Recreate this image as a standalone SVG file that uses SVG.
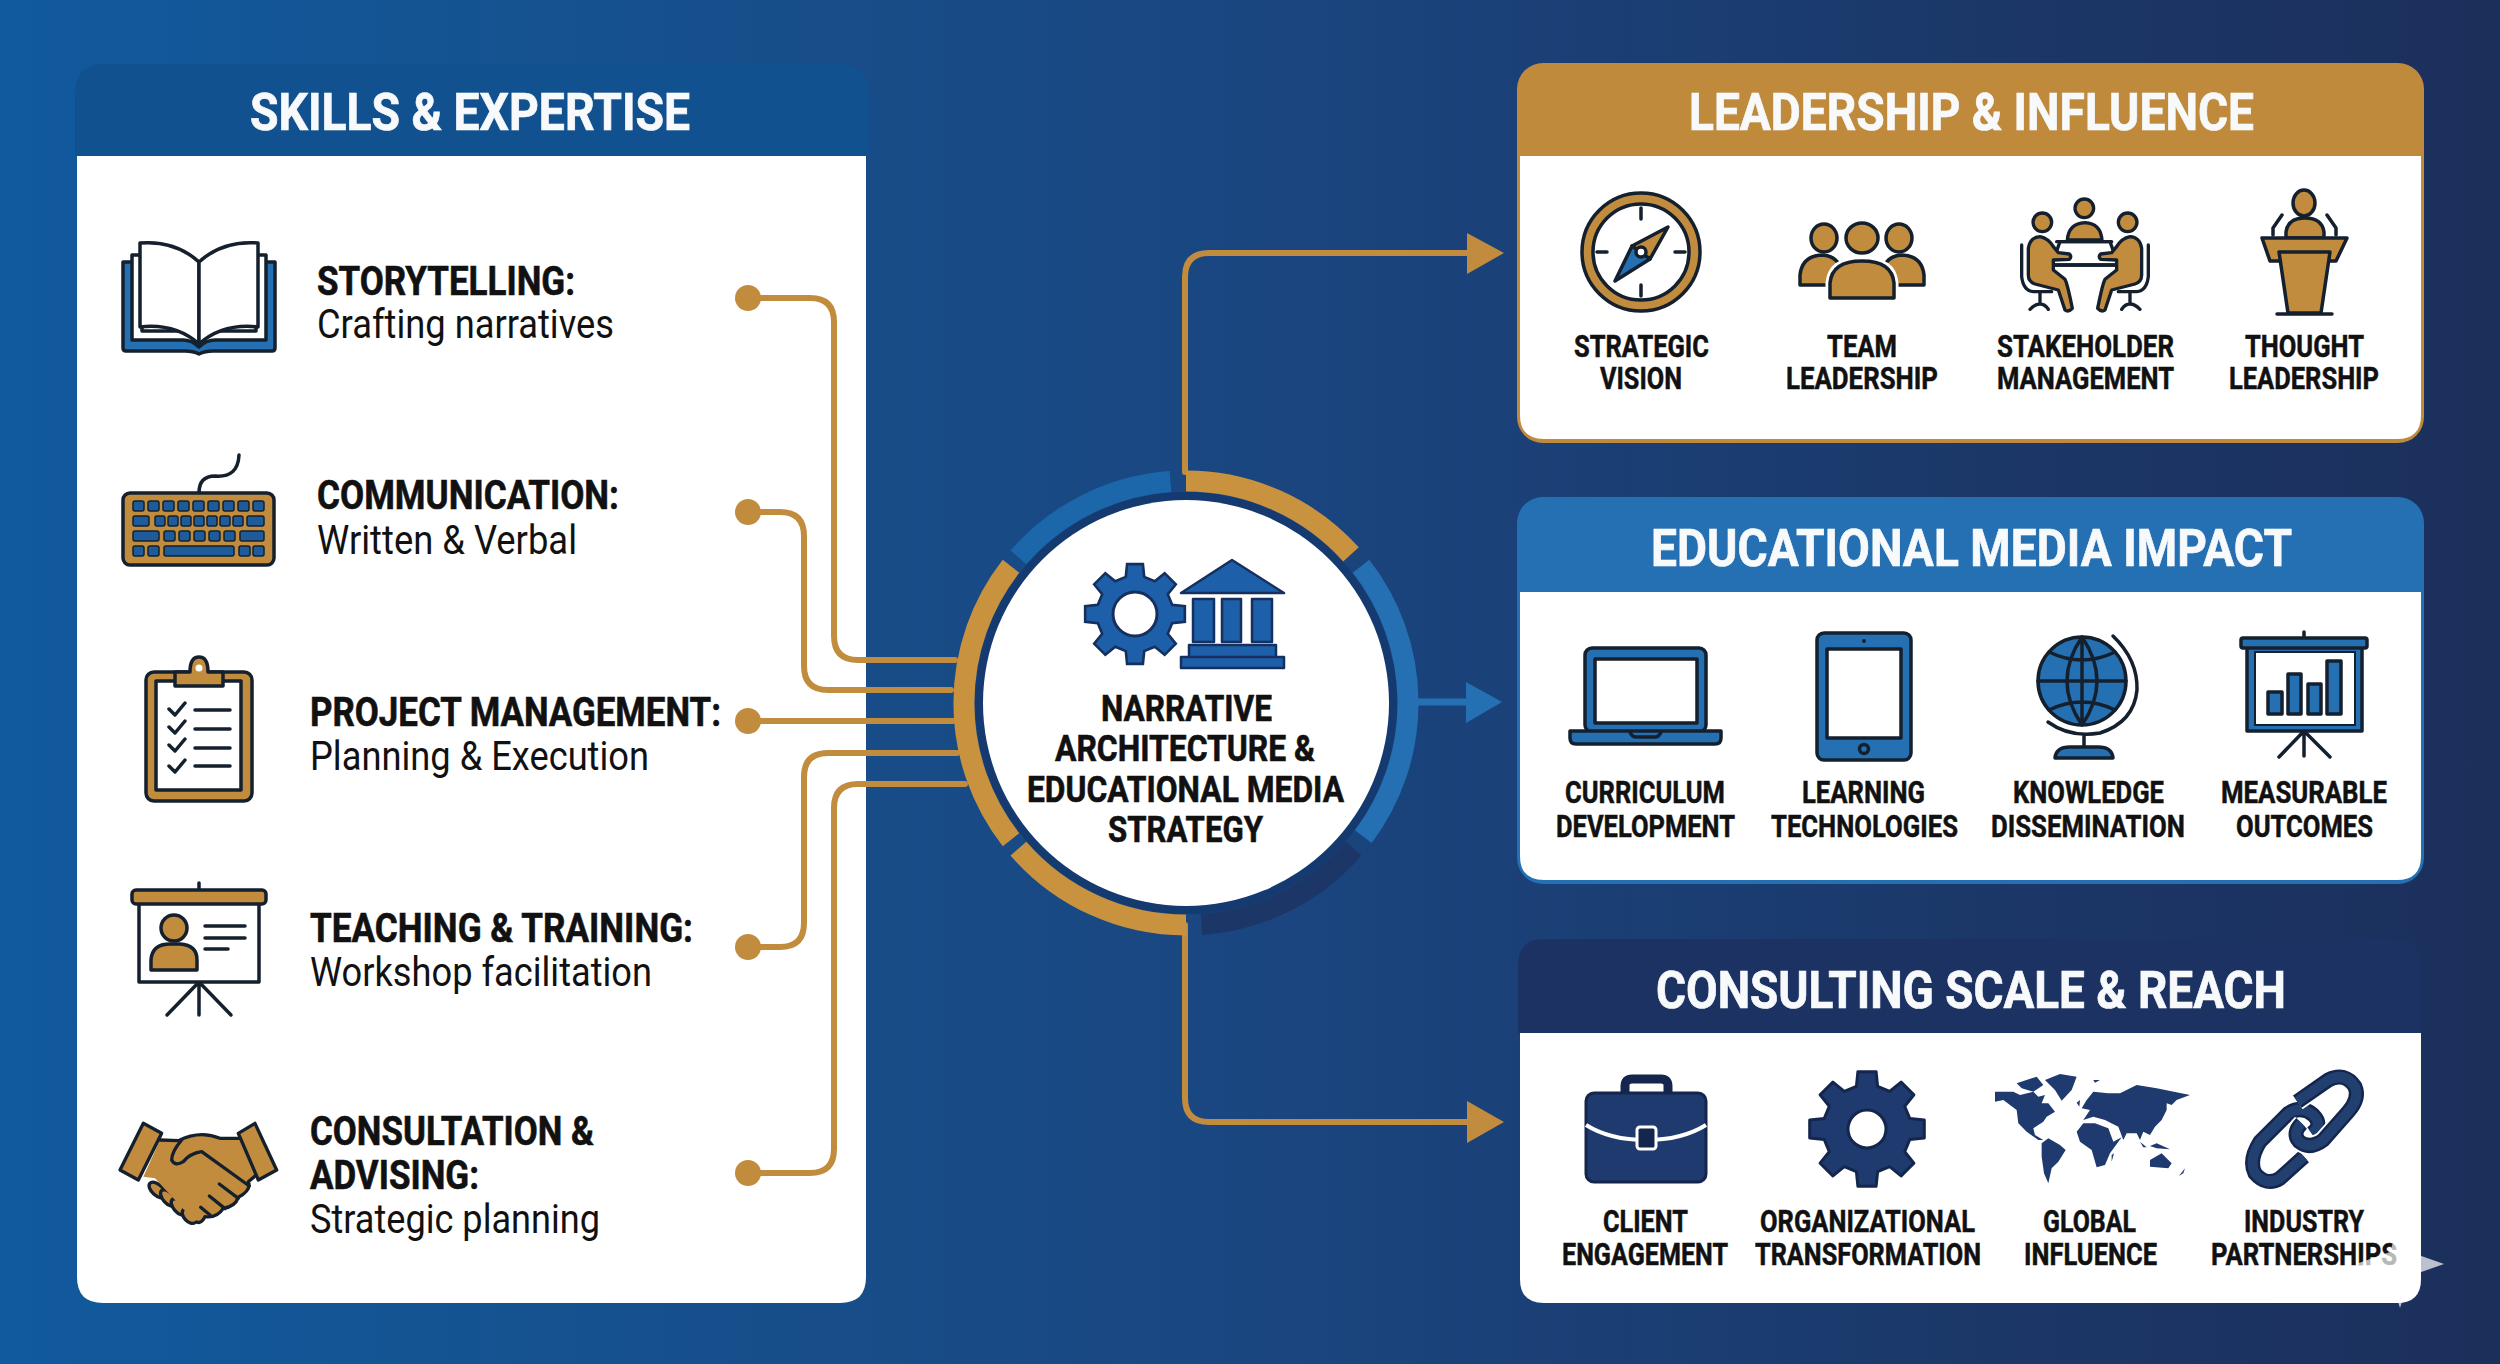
<svg xmlns="http://www.w3.org/2000/svg" width="2500" height="1364" viewBox="0 0 2500 1364">
<style>
text{font-family:Roboto,"Liberation Sans",sans-serif;fill:#111}
.title{font-size:52px;font-weight:700;fill:#f7f9fb;stroke:#f7f9fb;stroke-width:.7}
.head{font-size:40px;font-weight:700;stroke:#111;stroke-width:.6}
.sub{font-size:40px;font-weight:400}
.core{font-size:37px;font-weight:700;stroke:#111;stroke-width:.6}
.lab{font-size:31px;font-weight:700;stroke:#111;stroke-width:.5}
.conn{fill:none;stroke:#c28c3e;stroke-width:6;stroke-linecap:round;stroke-linejoin:round}
.dot{fill:#c28c3e}
.ahg{fill:#c28c3e}
.arc{fill:none;stroke-width:21}
.ko{stroke:#15202e;stroke-width:3.5;stroke-linejoin:round;stroke-linecap:round}
.k10{stroke:#15202e;stroke-width:10;stroke-linejoin:round;stroke-linecap:round}
.g{fill:#c28c3e}
.b{fill:#2470b3}
.n{fill:#1f3a6e}
.w{fill:#fff}
.nf{fill:none}
.key{fill:#1d5b9b;stroke:#15202e;stroke-width:1.5}
</style>
<defs>
<linearGradient id="bg" x1="0" y1="0" x2="1" y2="0">
<stop offset="0" stop-color="#115a9e"/><stop offset=".22" stop-color="#15528f"/><stop offset=".5" stop-color="#1a4680"/><stop offset=".8" stop-color="#1b3768"/><stop offset="1" stop-color="#1c2f5b"/>
</linearGradient>
<path id="gear" d="M-10.6-42.7L-9.1-57.3L9.1-57.3L10.6-42.7L22.7-37.7L34.1-46.9L46.9-34.1L37.7-22.7L42.7-10.6L57.3-9.1L57.3 9.1L42.7 10.6L37.7 22.7L46.9 34.1L34.1 46.9L22.7 37.7L10.6 42.7L9.1 57.3L-9.1 57.3L-10.6 42.7L-22.7 37.7L-34.1 46.9L-46.9 34.1L-37.7 22.7L-42.7 10.6L-57.3 9.1L-57.3-9.1L-42.7-10.6L-37.7-22.7L-46.9-34.1L-34.1-46.9L-22.7-37.7Z"/>
<g id="seated">
<circle cx="157" cy="127" r="28" class="g k10"/>
<path class="g k10" d="M115 205Q120 172 150 170Q175 175 190 200L205 218L238 222Q246 230 238 238L190 240L190 270L225 298Q232 310 247 385Q235 398 225 390L205 330L135 312Q115 305 115 285Z"/>
<path class="nf k10" d="M95 195V290Q100 333 130 335H185M150 335V372M120 388Q135 372 150 372Q165 372 175 388"/>
</g>
<g id="link">
</g>
</defs>

<rect id="background" width="2500" height="1364" fill="url(#bg)"/>

<g id="panel-skills">
<path d="M105 64H839Q869 64 869 94V156H75V94Q75 64 105 64Z" fill="#12518f"/>
<path d="M77 156H866V1277Q866 1303 840 1303H103Q77 1303 77 1277Z" fill="#fff"/>
<text class="title" x="250" y="130" textLength="440" lengthAdjust="spacingAndGlyphs">SKILLS &amp; EXPERTISE</text>
</g>

<g id="skill-storytelling">
<path class="b ko" d="M123 262H133V338H190Q199 340 199 344Q199 340 208 338H265V262H275V348Q275 351 272 351H213Q205 351 199 354Q193 351 185 351H126Q123 351 123 348Z"/>
<path class="w ko" d="M132 255H142V331H256V255H266V340H215Q206 340 199 347Q192 340 183 340H132Z"/>
<path class="w ko" d="M199 262Q175 240 140 243V327Q175 323 199 344Z"/>
<path class="w ko" d="M199 262Q223 240 258 243V327Q223 323 199 344Z"/>
<text class="head" x="317" y="295" textLength="258" lengthAdjust="spacingAndGlyphs">STORYTELLING:</text>
<text class="sub" x="317" y="338" textLength="297" lengthAdjust="spacingAndGlyphs">Crafting narratives</text>
</g>

<g id="skill-communication">
<path class="nf ko" d="M199 493Q199 476 215 476Q238 478 239 455"/>
<rect class="g ko" x="123" y="493" width="151" height="72" rx="7"/>
<g class="key">
<rect x="133" y="501" width="11" height="10" rx="2"/><rect x="148" y="501" width="11" height="10" rx="2"/><rect x="163" y="501" width="11" height="10" rx="2"/><rect x="178" y="501" width="11" height="10" rx="2"/><rect x="193" y="501" width="11" height="10" rx="2"/><rect x="208" y="501" width="11" height="10" rx="2"/><rect x="223" y="501" width="11" height="10" rx="2"/><rect x="238" y="501" width="11" height="10" rx="2"/><rect x="253" y="501" width="11" height="10" rx="2"/>
<rect x="133" y="516" width="16" height="10" rx="2"/><rect x="155" y="516" width="10" height="10" rx="2"/><rect x="168" y="516" width="10" height="10" rx="2"/><rect x="181" y="516" width="10" height="10" rx="2"/><rect x="194" y="516" width="10" height="10" rx="2"/><rect x="207" y="516" width="10" height="10" rx="2"/><rect x="220" y="516" width="10" height="10" rx="2"/><rect x="233" y="516" width="10" height="10" rx="2"/><rect x="247" y="516" width="17" height="10" rx="2"/>
<rect x="133" y="531" width="26" height="10" rx="2"/><rect x="164" y="531" width="11" height="10" rx="2"/><rect x="179" y="531" width="11" height="10" rx="2"/><rect x="194" y="531" width="11" height="10" rx="2"/><rect x="209" y="531" width="11" height="10" rx="2"/><rect x="224" y="531" width="11" height="10" rx="2"/><rect x="240" y="531" width="24" height="10" rx="2"/>
<rect x="133" y="546" width="11" height="10" rx="2"/><rect x="148" y="546" width="11" height="10" rx="2"/><rect x="164" y="546" width="70" height="10" rx="2"/><rect x="239" y="546" width="11" height="10" rx="2"/><rect x="253" y="546" width="11" height="10" rx="2"/>
</g>
<text class="head" x="317" y="509" textLength="302" lengthAdjust="spacingAndGlyphs">COMMUNICATION:</text>
<text class="sub" x="317" y="554" textLength="260" lengthAdjust="spacingAndGlyphs">Written &amp; Verbal</text>
</g>

<g id="skill-project">
<rect class="g ko" x="146" y="672" width="106" height="129" rx="8"/>
<rect class="w ko" x="156" y="681" width="85" height="109" stroke-width="2.5"/>
<path class="g ko" d="M175 686V672H190Q190 657 199 657Q208 657 208 672H223V686Z"/>
<circle class="w" cx="199" cy="668" r="3.5"/>
<path class="nf ko" d="M169 709L175 715L185 703M169 727L175 733L185 721M169 745L175 751L185 739M169 766L175 772L185 760M195 710H230M195 729H230M195 748H230M195 766H230"/>
<text class="head" x="310" y="726" textLength="411" lengthAdjust="spacingAndGlyphs">PROJECT MANAGEMENT:</text>
<text class="sub" x="310" y="770" textLength="339" lengthAdjust="spacingAndGlyphs">Planning &amp; Execution</text>
</g>

<g id="skill-teaching">
<path class="nf ko" d="M199 883V892M199 982L167 1015M199 982V1015M199 982L231 1015"/>
<rect class="w ko" x="139" y="902" width="120" height="80"/>
<rect class="g ko" x="132" y="890" width="134" height="14" rx="4"/>
<ellipse class="g ko" cx="174" cy="928" rx="13" ry="13"/>
<path class="g ko" d="M151 970V960Q152 944 170 944H180Q197 945 197 960V970Z"/>
<path class="nf ko" d="M205 926H245M205 938H245M205 949H228"/>
<text class="head" x="310" y="942" textLength="383" lengthAdjust="spacingAndGlyphs">TEACHING &amp; TRAINING:</text>
<text class="sub" x="310" y="986" textLength="342" lengthAdjust="spacingAndGlyphs">Workshop facilitation</text>
</g>

<g id="skill-consultation">
<g transform="translate(110 1110) scale(.3333)">
<ellipse class="g k10" cx="142" cy="240" rx="16" ry="30" transform="rotate(-48 142 240)"/>
<ellipse class="g k10" cx="175" cy="264" rx="16" ry="30" transform="rotate(-42 175 264)"/>
<ellipse class="g k10" cx="207" cy="291" rx="16" ry="30" transform="rotate(-42 207 291)"/>
<ellipse class="g k10" cx="238" cy="318" rx="16" ry="26" transform="rotate(-42 238 318)"/>
<path class="g" d="M150 90L205 92Q270 60 330 85L395 85L445 190L415 215Q415 245 385 262Q375 290 340 295Q320 325 285 320Q270 345 255 335L135 205L100 200Z"/>
<path class="nf k10" d="M150 90L205 92Q270 60 330 85L395 85M445 190L415 215Q425 240 385 262Q375 290 340 295Q320 325 285 320Q275 342 260 336"/>
<path class="nf k10" d="M215 90Q185 125 185 150Q195 170 220 155Q240 130 275 125L418 228M328 222L385 265M298 258L345 296M272 292L300 315"/>
<path class="g k10" d="M100 40L155 70L85 210L30 180Z"/>
<path class="g k10" d="M435 40L385 70L445 210L500 180Z"/>
</g>
<text class="head" x="310" y="1145" textLength="284" lengthAdjust="spacingAndGlyphs">CONSULTATION &amp;</text>
<text class="head" x="310" y="1189" textLength="169" lengthAdjust="spacingAndGlyphs">ADVISING:</text>
<text class="sub" x="310" y="1233" textLength="290" lengthAdjust="spacingAndGlyphs">Strategic planning</text>
</g>

<g id="connectors">
<path class="conn" d="M748 298H810Q834 298 834 322V636Q834 660 858 660H955"/>
<path class="conn" d="M748 512H780Q804 512 804 536V666Q804 690 828 690H951"/>
<path class="conn" d="M748 721H953"/>
<path class="conn" d="M748 947H780Q804 947 804 923V777Q804 753 828 753H957"/>
<path class="conn" d="M748 1173H810Q834 1173 834 1149V808Q834 784 858 784H965"/>
<circle class="dot" cx="748" cy="298" r="13"/>
<circle class="dot" cx="748" cy="512" r="13"/>
<circle class="dot" cx="748" cy="721" r="13"/>
<circle class="dot" cx="748" cy="947" r="13"/>
<circle class="dot" cx="748" cy="1173" r="13"/>
<path class="conn" d="M1185 472V277Q1185 253 1209 253H1475"/>
<path class="ahg" d="M1467 233L1504 253L1467 274Z"/>
<path class="conn" d="M1185 925V1098Q1185 1122 1209 1122H1475"/>
<path class="ahg" d="M1467 1101L1504 1122L1467 1143Z"/>
<path d="M1418 702H1470" fill="none" stroke="#2470b3" stroke-width="7"/>
<path d="M1466 682L1502 702L1466 723Z" fill="#2470b3"/>
</g>

<g id="core">
<circle cx="1186" cy="703" r="211" fill="#143a70"/>
<path class="arc" stroke="#c8923f" d="M1186 481A222 222 0 0 1 1351 554.4"/>
<path class="arc" stroke="#2470b3" d="M1361 566.3A222 222 0 0 1 1363.3 836.6"/>
<path class="arc" stroke="#1c3668" d="M1353.6 848.6A222 222 0 0 1 1201.5 924.5"/>
<path class="arc" stroke="#c8923f" d="M1186 925A222 222 0 0 1 1018.4 848.6"/>
<path class="arc" stroke="#c8923f" d="M1011 839.7A222 222 0 0 1 1011 566.3"/>
<path class="arc" stroke="#1b67aa" d="M1018.4 557.4A222 222 0 0 1 1170.5 481.5"/>
<circle cx="1186" cy="703" r="203" fill="#fff"/>
<use href="#gear" transform="translate(1135 614) scale(.87)" fill="#1d5fa8" stroke="#15305e" stroke-width="3"/>
<circle cx="1135" cy="614" r="22" fill="#fff" stroke="#15305e" stroke-width="3"/>
<g fill="#1d5fa8" stroke="#15305e" stroke-width="2.5" stroke-linejoin="round">
<path d="M1232 560L1284 593H1181Z"/>
<path d="M1193 599H1214V642H1193ZM1222 599H1241V642H1222ZM1252 599H1272V642H1252Z"/>
<path d="M1189 645H1276V657H1189ZM1181 657H1284V668H1181Z"/>
</g>
<text class="core" x="1101" y="721" textLength="171" lengthAdjust="spacingAndGlyphs">NARRATIVE</text>
<text class="core" x="1055" y="761" textLength="260" lengthAdjust="spacingAndGlyphs">ARCHITECTURE &amp;</text>
<text class="core" x="1027" y="802" textLength="317" lengthAdjust="spacingAndGlyphs">EDUCATIONAL MEDIA</text>
<text class="core" x="1108" y="842" textLength="155" lengthAdjust="spacingAndGlyphs">STRATEGY</text>
</g>

<g id="panel-leadership">
<rect x="1517" y="63" width="907" height="380" rx="26" fill="#bf8a3c"/>
<path d="M1520 156H2421V415Q2421 439 2397 439H1544Q1520 439 1520 415Z" fill="#fff"/>
<text class="title" x="1689" y="130" textLength="565" lengthAdjust="spacingAndGlyphs">LEADERSHIP &amp; INFLUENCE</text>
</g>
<g id="item-strategic-vision">
<circle cx="1641" cy="252" r="59" class="g ko"/>
<circle cx="1641" cy="252" r="48" class="w ko"/>
<path class="nf ko" d="M1641 208V219M1641 285V296M1597 252H1607M1675 252H1685"/>
<path class="g ko" d="M1668 227L1650 259L1632 246Z"/>
<path class="b ko" d="M1615 281L1632 246L1650 259Z"/>
<circle cx="1641" cy="252" r="5" class="w ko"/>
<text class="lab" x="1574" y="357" textLength="135" lengthAdjust="spacingAndGlyphs">STRATEGIC</text>
<text class="lab" x="1600" y="389" textLength="82" lengthAdjust="spacingAndGlyphs">VISION</text>
</g>
<g id="item-team-leadership">
<ellipse cx="1824" cy="238" rx="13" ry="14" class="g ko"/>
<ellipse cx="1899" cy="238" rx="13" ry="14" class="g ko"/>
<path class="g ko" d="M1800 285V275Q1802 256 1822 255Q1840 256 1842 275V285Z"/>
<path class="g ko" d="M1924 285V275Q1922 256 1902 255Q1884 256 1882 275V285Z"/>
<ellipse cx="1862" cy="238" rx="16" ry="15" class="g ko"/>
<path class="g" stroke="#fff" stroke-width="9" d="M1830 298V283Q1832 261 1862 261Q1892 261 1894 283V298Z"/>
<path class="g ko" d="M1830 298V283Q1832 261 1862 261Q1892 261 1894 283V298Z"/>
<text class="lab" x="1827" y="357" textLength="70" lengthAdjust="spacingAndGlyphs">TEAM</text>
<text class="lab" x="1786" y="389" textLength="152" lengthAdjust="spacingAndGlyphs">LEADERSHIP</text>
</g>
<g id="item-stakeholder-management">
<g transform="translate(1990 180) scale(.3333)">
<circle cx="283" cy="85" r="28" class="g k10"/>
<path class="g k10" d="M232 180Q236 130 285 128Q332 130 336 180Z"/>
<path class="w k10" d="M210 185H360L385 255H185Z" stroke="none"/>
<path class="nf k10" d="M200 185H365M188 255H383"/>
<use href="#seated"/>
<use href="#seated" transform="translate(570 0) scale(-1 1)"/>
</g>
<text class="lab" x="1997" y="357" textLength="177" lengthAdjust="spacingAndGlyphs">STAKEHOLDER</text>
<text class="lab" x="1997" y="389" textLength="177" lengthAdjust="spacingAndGlyphs">MANAGEMENT</text>
</g>
<g id="item-thought-leadership">
<ellipse cx="2304" cy="203" rx="11" ry="13" class="g ko"/>
<path class="g ko" d="M2286 238V232Q2288 218 2305 218Q2322 218 2324 232V238Z"/>
<path class="nf ko" d="M2273 235V228L2282 215M2336 235V228L2327 215"/>
<path class="g ko" d="M2262 238H2347L2336 261H2270Z"/>
<path class="g ko" d="M2279 252H2330L2321 313H2288Z"/>
<path class="nf ko" d="M2277 314H2332"/>
<text class="lab" x="2245" y="357" textLength="119" lengthAdjust="spacingAndGlyphs">THOUGHT</text>
<text class="lab" x="2229" y="389" textLength="150" lengthAdjust="spacingAndGlyphs">LEADERSHIP</text>
</g>

<g id="panel-educational">
<rect x="1517" y="497" width="907" height="387" rx="26" fill="#2470b3"/>
<path d="M1520 592H2421V856Q2421 880 2397 880H1544Q1520 880 1520 856Z" fill="#fff"/>
<text class="title" x="1651" y="566" textLength="641" lengthAdjust="spacingAndGlyphs">EDUCATIONAL MEDIA IMPACT</text>
</g>
<g id="item-curriculum">
<rect class="b ko" x="1585" y="648" width="121" height="84" rx="7"/>
<rect class="w ko" x="1595" y="659" width="102" height="64" stroke-width="2.5"/>
<path class="b ko" d="M1570 731H1721V738Q1721 744 1715 744H1576Q1570 744 1570 738Z"/>
<path class="nf ko" d="M1630 732Q1632 737 1636 737H1655Q1659 737 1661 732" stroke-width="2.5"/>
<text class="lab" x="1565" y="803" textLength="160" lengthAdjust="spacingAndGlyphs">CURRICULUM</text>
<text class="lab" x="1556" y="837" textLength="179" lengthAdjust="spacingAndGlyphs">DEVELOPMENT</text>
</g>
<g id="item-learning">
<rect class="b ko" x="1817" y="633" width="94" height="127" rx="7"/>
<rect class="w ko" x="1827" y="649" width="74" height="89" stroke-width="2.5"/>
<circle cx="1864" cy="641" r="2" fill="#15202e"/>
<circle cx="1864" cy="749" r="4.5" class="nf ko" stroke-width="2.5"/>
<text class="lab" x="1802" y="803" textLength="123" lengthAdjust="spacingAndGlyphs">LEARNING</text>
<text class="lab" x="1771" y="837" textLength="187" lengthAdjust="spacingAndGlyphs">TECHNOLOGIES</text>
</g>
<g id="item-knowledge">
<circle cx="2082" cy="681" r="44" class="b ko"/>
<path class="nf ko" d="M2082 637V725M2038 681H2126M2082 637Q2052 681 2082 725M2082 637Q2112 681 2082 725M2049 652Q2082 668 2115 652M2049 710Q2082 694 2115 710"/>
<path class="nf ko" d="M2113 636Q2138 660 2137 690Q2134 722 2100 733Q2070 738 2048 722"/>
<path class="nf ko" d="M2084 736V748"/>
<path class="b ko" d="M2055 758Q2056 747 2070 747H2098Q2112 747 2113 758Z"/>
<text class="lab" x="2013" y="803" textLength="151" lengthAdjust="spacingAndGlyphs">KNOWLEDGE</text>
<text class="lab" x="1991" y="837" textLength="194" lengthAdjust="spacingAndGlyphs">DISSEMINATION</text>
</g>
<g id="item-measurable">
<path class="nf ko" d="M2304 632V640M2304 731L2279 757M2304 731V756M2304 731L2330 757"/>
<rect class="b ko" x="2247" y="646" width="115" height="85"/>
<rect class="w" x="2255" y="652" width="100" height="73" stroke="#15202e" stroke-width="2"/>
<rect class="b ko" x="2241" y="638" width="126" height="10" rx="2"/>
<rect class="b ko" x="2268" y="692" width="14" height="22" stroke-width="2.5"/>
<rect class="b ko" x="2288" y="674" width="13" height="40" stroke-width="2.5"/>
<rect class="b ko" x="2308" y="684" width="13" height="30" stroke-width="2.5"/>
<rect class="b ko" x="2327" y="661" width="14" height="53" stroke-width="2.5"/>
<text class="lab" x="2221" y="803" textLength="166" lengthAdjust="spacingAndGlyphs">MEASURABLE</text>
<text class="lab" x="2236" y="837" textLength="137" lengthAdjust="spacingAndGlyphs">OUTCOMES</text>
</g>

<g id="panel-consulting">
<path d="M1544 939H2395Q2421 939 2421 965V1033H1518V965Q1518 939 1544 939Z" fill="#1b3263"/>
<path d="M1520 1033H2421V1279Q2421 1303 2397 1303H1544Q1520 1303 1520 1279Z" fill="#fff"/>
<text class="title" x="1656" y="1008" textLength="630" lengthAdjust="spacingAndGlyphs">CONSULTING SCALE &amp; REACH</text>
</g>
<g id="item-client">
<path class="nf" d="M1625 1093V1086Q1625 1079 1632 1079H1661Q1668 1079 1668 1086V1093" stroke="#14264d" stroke-width="9"/>
<rect class="n" x="1586" y="1093" width="120" height="89" rx="8" stroke="#14264d" stroke-width="3"/>
<path class="nf" d="M1586 1125Q1610 1140 1646 1140Q1682 1140 1706 1125" stroke="#fff" stroke-width="4"/>
<rect x="1637" y="1127" width="19" height="22" rx="3" fill="#14264d" stroke="#fff" stroke-width="3"/>
<text class="lab" x="1603" y="1232" textLength="85" lengthAdjust="spacingAndGlyphs">CLIENT</text>
<text class="lab" x="1562" y="1265" textLength="166" lengthAdjust="spacingAndGlyphs">ENGAGEMENT</text>
</g>
<g id="item-organizational">
<use href="#gear" transform="translate(1867 1129)" fill="#1f3a6e" stroke="#14264d" stroke-width="3" stroke-linejoin="round"/>
<circle cx="1867" cy="1129" r="19" fill="#fff" stroke="#14264d" stroke-width="3"/>
<text class="lab" x="1760" y="1232" textLength="215" lengthAdjust="spacingAndGlyphs">ORGANIZATIONAL</text>
<text class="lab" x="1755" y="1265" textLength="226" lengthAdjust="spacingAndGlyphs">TRANSFORMATION</text>
</g>
<g id="item-global">
<g transform="translate(1980 1060) scale(.3333)" fill="#1f3a6e">
<path d="M45 95L100 95L120 105L160 95L175 110L195 105L185 130L205 130L225 155L200 170L190 185L160 205L165 225L190 240L175 240L140 215L115 190L110 150L70 120L45 125Z"/>
<path d="M110 70L170 50L190 75L160 95L125 85Z"/>
<path d="M195 60L240 42L290 50L275 90L245 122L225 90Z"/>
<path d="M185 250L205 235L240 255L257 270L235 305L215 325L205 370L192 340L185 290Z"/>
<path d="M290 215L310 190L345 190L385 205L400 245L425 232L390 280L375 315L350 322L335 270L300 245Z"/>
<path d="M305 145L320 120L340 95L385 100L420 100L470 75L530 85L630 105L590 120L575 135L560 130L560 150L545 180L525 200L510 225L490 215L480 240L470 220L440 220L430 240L415 200L375 180L340 170L310 180L330 150Z"/>
<path d="M510 300L545 280L575 310L565 325L510 320Z"/>
<path d="M395 285L402 280L395 305ZM480 245L500 262L490 262ZM510 258L530 250L570 268L530 265ZM597 348L615 325L610 340ZM290 128L300 120L298 140ZM340 60L360 60L345 68Z"/>
</g>
<text class="lab" x="2043" y="1232" textLength="93" lengthAdjust="spacingAndGlyphs">GLOBAL</text>
<text class="lab" x="2024" y="1265" textLength="133" lengthAdjust="spacingAndGlyphs">INFLUENCE</text>
</g>
<g id="item-industry">
<g transform="translate(1980 1060) scale(.3333)" fill="none">
<path d="M972 290L900 355Q860 380 825 340Q805 300 840 245L925 160Q965 135 1000 165Q1030 195 995 220" stroke="#14264d" stroke-width="45"/>
<path d="M972 290L900 355Q860 380 825 340Q805 300 840 245L925 160Q965 135 1000 165Q1030 195 995 220" stroke="#22406f" stroke-width="30"/>
<path d="M952 125L1045 60Q1095 35 1125 80Q1140 115 1105 155L1030 240Q990 270 958 245Q935 220 965 190" stroke="#fff" stroke-width="56"/>
<path d="M952 125L1045 60Q1095 35 1125 80Q1140 115 1105 155L1030 240Q990 270 958 245Q935 220 965 190" stroke="#14264d" stroke-width="45"/>
<path d="M952 125L1045 60Q1095 35 1125 80Q1140 115 1105 155L1030 240Q990 270 958 245Q935 220 965 190" stroke="#22406f" stroke-width="30"/>
</g>
<text class="lab" x="2244" y="1232" textLength="120" lengthAdjust="spacingAndGlyphs">INDUSTRY</text>
<text class="lab" x="2211" y="1265" textLength="186" lengthAdjust="spacingAndGlyphs">PARTNERSHIPS</text>
</g>
<path id="sparkle" d="M2400 1220L2410 1252L2444 1264L2410 1276L2400 1308L2390 1276L2356 1264L2390 1252Z" fill="#fff" opacity=".7"/>
</svg>
